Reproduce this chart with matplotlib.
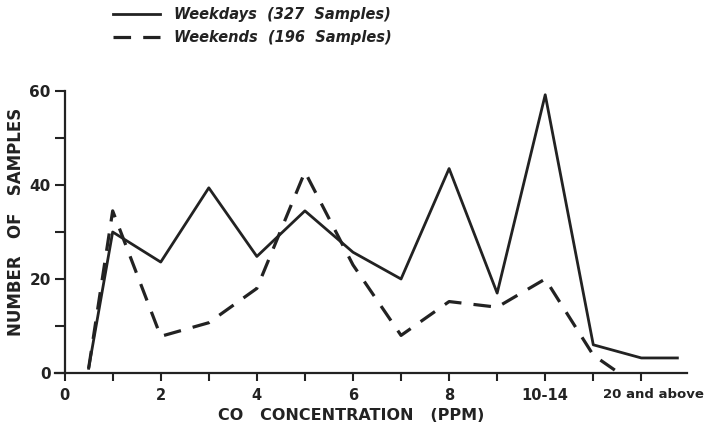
import matplotlib.pyplot as plt
import matplotlib.transforms as mtransforms

# CO concentration class positions (0..12 on the axis, 10 = "10-14", 12 = "20 and above")
weekday_x = [0.5, 1, 2, 3, 4, 5, 6, 7, 8, 9, 10, 11, 12, 12.75]
weekday_n = [1, 30, 23.6, 39.4, 24.8, 34.5, 25.7, 20, 43.5, 17, 59.2, 6, 3.2, 3.2]

weekend_x = [0.5, 1, 2, 3, 4, 5, 6, 7, 8, 9, 10, 11, 11.45]
weekend_n = [1, 34.5, 7.8, 10.7, 18, 42.8, 23, 8, 15.2, 14, 20, 3.8, 0.6]

tick_pos = [0, 2, 4, 6, 8, 10, 12]
tick_lab = ["0", "2", "4", "6", "8", "10-14", "20 and above"]

ink = "#222222"

fig = plt.figure(figsize=(7.1, 4.32), dpi=100)
ax = fig.add_axes([55 / 710, 1 - 373 / 432, 632 / 710, 282 / 432])

ax.plot(weekday_x, weekday_n, color=ink, lw=2.0, label="Weekdays  (327  Samples)")
ax.plot(weekend_x, weekend_n, color=ink, lw=2.3, dashes=(5.5, 3.8),
        label="Weekends  (196  Samples)")

ax.set_xlim(-0.2, 12.95)
ax.set_ylim(0, 60)
ax.spines["top"].set_visible(False)
ax.spines["right"].set_visible(False)
ax.spines["left"].set_position(("data", 0))
ax.spines["left"].set_bounds(0, 60)
for s in ("left", "bottom"):
    ax.spines[s].set_linewidth(1.6)
    ax.spines[s].set_color(ink)

ax.set_xticks(tick_pos)
ax.set_xticklabels(tick_lab, fontsize=10.5, fontweight="bold", color=ink)
ax.set_xticks([1, 3, 5, 7, 9, 11], minor=True)
ax.set_yticks([0, 20, 40, 60])
ax.set_yticklabels(["0", "20", "40", "60"], fontsize=11, fontweight="bold", color=ink)
ax.set_yticks([10, 30, 50], minor=True)
ax.tick_params(axis="both", which="both", direction="out", width=1.5, color=ink)
ax.tick_params(axis="x", which="both", length=6, pad=5)
ax.tick_params(axis="y", which="both", length=7, pad=3)

# last label: smaller and nudged right like the original
lab = ax.get_xticklabels()[-1]
lab.set_fontsize(9.5)
lab.set_transform(lab.get_transform() + mtransforms.ScaledTranslation(0.12, 0, fig.dpi_scale_trans))

ax.set_xlabel("CO   CONCENTRATION   (PPM)", fontsize=11.5, fontweight="bold", color=ink)
ax.xaxis.set_label_coords(0.468, -0.125)
ax.set_ylabel("NUMBER   OF   SAMPLES", fontsize=12, fontweight="bold", color=ink)
ax.yaxis.set_label_coords(-0.047, 0.535)

leg = ax.legend(loc="upper left", bbox_to_anchor=(100 / 710, 1.015), bbox_transform=fig.transFigure,
                frameon=False, handlelength=3.2, handletextpad=1.0, labelspacing=0.6,
                prop={"size": 10.5, "weight": "bold", "style": "italic"})
for t in leg.get_texts():
    t.set_color(ink)

fig.savefig("out.png", dpi=100)
